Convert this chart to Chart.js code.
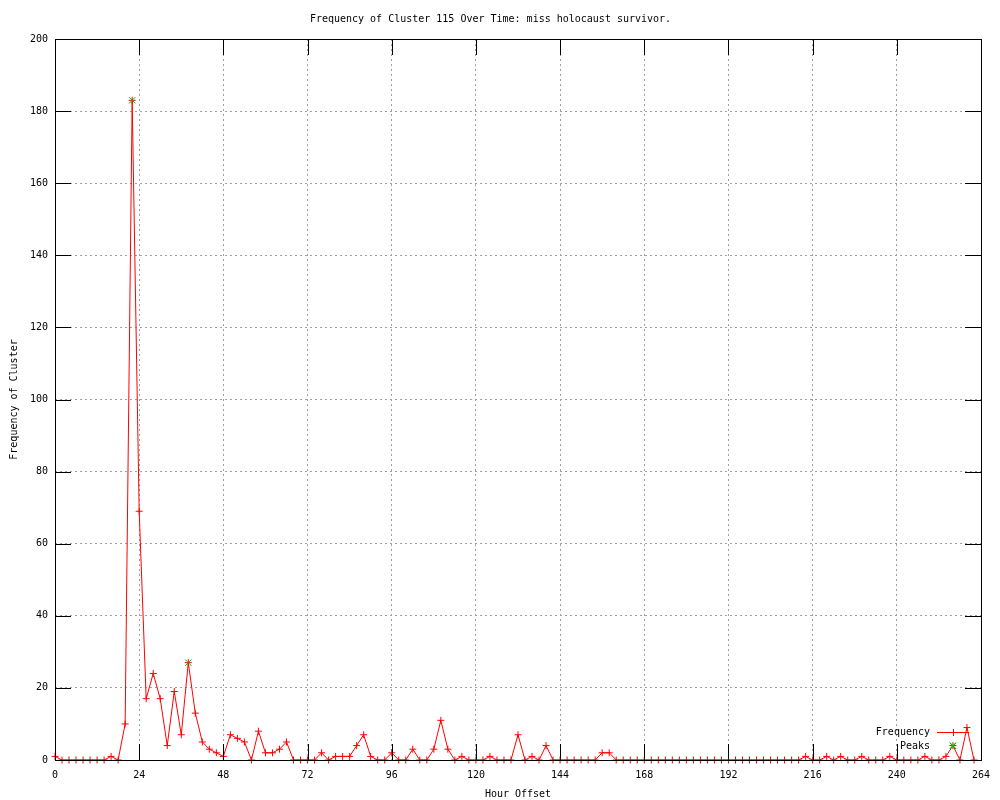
<!DOCTYPE html>
<html><head><meta charset="utf-8">
<script src="https://cdn.jsdelivr.net/npm/chart.js@4.4.0/dist/chart.umd.min.js"></script>
<style>html,body{margin:0;padding:0;background:#fff}</style>
</head><body>
<canvas id="c" width="1000" height="800"></canvas>
<script>
const titleText = 'Frequency of Cluster 115 Over Time: miss holocaust survivor.';
const xTitle = 'Hour Offset';
const yTitle = 'Frequency of Cluster';
const hours = [0,2,4,6,8,10,12,14,16,18,20,22,24,26,28,30,32,34,36,38,40,42,44,46,48,50,52,54,56,58,60,62,64,66,68,70,72,74,76,78,80,82,84,86,88,90,92,94,96,98,100,102,104,106,108,110,112,114,116,118,120,122,124,126,128,130,132,134,136,138,140,142,144,146,148,150,152,154,156,158,160,162,164,166,168,170,172,174,176,178,180,182,184,186,188,190,192,194,196,198,200,202,204,206,208,210,212,214,216,218,220,222,224,226,228,230,232,234,236,238,240,242,244,246,248,250,252,254,256,258,260,262];
const frequency = [1,0,0,0,0,0,0,0,1,0,10,183,69,17,24,17,4,19,7,27,13,5,3,2,1,7,6,5,0,8,2,2,3,5,0,0,0,0,2,0,1,1,1,4,7,1,0,0,2,0,0,3,0,0,3,11,3,0,1,0,0,0,1,0,0,0,7,0,1,0,4,0,0,0,0,0,0,0,2,2,0,0,0,0,0,0,0,0,0,0,0,0,0,0,0,0,0,0,0,0,0,0,0,0,0,0,0,1,0,0,1,0,1,0,0,1,0,0,0,1,0,0,0,0,1,0,0,1,4,0,9,0];
const peakHours = [22,38,256];
const peakValues = [183,27,4];
const xTicks = [0,24,48,72,96,120,144,168,192,216,240,264];
const yTicks = [0,20,40,60,80,100,120,140,160,180,200];
const legendLabels = ['Frequency','Peaks'];

const FONT = 'DejaVu Sans Mono';
const RED = '#ff0000';
const GREEN = '#00c000';

const freqData = hours.map((h,i)=>({x:h,y:frequency[i]}));
const peakData = peakHours.map((h,i)=>({x:h,y:peakValues[i]}));

const framePlugin = {
  id:'frame',
  afterDatasetsDraw(chart){
    const {ctx, chartArea:a, scales:{x,y}} = chart;
    ctx.save();
    ctx.strokeStyle='#000'; ctx.lineWidth=1; ctx.setLineDash([]);
    const T=16;
    ctx.beginPath();
    xTicks.forEach(v=>{
      const px=Math.round(x.getPixelForValue(v))+0.5;
      ctx.moveTo(px,a.bottom); ctx.lineTo(px,a.bottom-T);
      ctx.moveTo(px,a.top); ctx.lineTo(px,a.top+T);
    });
    yTicks.forEach(v=>{
      const py=Math.round(y.getPixelForValue(v))+0.5;
      ctx.moveTo(a.left,py); ctx.lineTo(a.left+T,py);
      ctx.moveTo(a.right,py); ctx.lineTo(a.right-T,py);
    });
    ctx.stroke();
    ctx.strokeRect(Math.round(a.left)+0.5, Math.round(a.top)+0.5, Math.round(a.right-a.left), Math.round(a.bottom-a.top));
    // legend
    ctx.font = '10px "'+FONT+'"';
    ctx.fillStyle='#000'; ctx.textAlign='right'; ctx.textBaseline='middle';
    const tx = a.right-51, ly1 = a.bottom-28, ly2 = a.bottom-14;
    ctx.fillText(legendLabels[0], tx, ly1);
    ctx.fillText(legendLabels[1], tx, ly2);
    ctx.strokeStyle=RED;
    ctx.beginPath(); ctx.moveTo(tx+7, ly1+0.5); ctx.lineTo(tx+39, ly1+0.5);
    const cx = tx+23;
    ctx.moveTo(cx-3.5, ly1+0.5); ctx.lineTo(cx+3.5, ly1+0.5);
    ctx.moveTo(cx+0.5, ly1-3); ctx.lineTo(cx+0.5, ly1+4);
    ctx.stroke();
    ctx.strokeStyle=GREEN;
    ctx.beginPath();
    ctx.moveTo(cx-3, ly2-3); ctx.lineTo(cx+3, ly2+3);
    ctx.moveTo(cx+3, ly2-3); ctx.lineTo(cx-3, ly2+3);
    ctx.stroke();
    ctx.restore();
  }
};

new Chart(document.getElementById('c'), {
  type:'line',
  data:{datasets:[
    {label:legendLabels[0], data:freqData, borderColor:RED, backgroundColor:RED, borderWidth:1,
     pointStyle:'cross', pointRadius:3.5, pointBorderColor:RED, pointBorderWidth:1, tension:0, clip:false, order:2},
    {label:legendLabels[1], data:peakData, showLine:false, borderColor:GREEN, backgroundColor:GREEN,
     pointStyle:'crossRot', pointRadius:4.5, pointBorderColor:GREEN, pointBorderWidth:1, clip:false, order:1}
  ]},
  options:{
    responsive:false, animation:false, devicePixelRatio:1,
    layout:{padding:{top:0,right:19,bottom:0,left:0}},
    plugins:{
      legend:{display:false}, tooltip:{enabled:false},
      title:{display:true, text:titleText, color:'#000', font:{family:FONT,size:10,weight:'normal'}, padding:{top:13,bottom:14}}
    },
    scales:{
      x:{type:'linear', min:0, max:264,
        afterBuildTicks(s){ s.ticks = xTicks.map(v=>({value:v})); },
        ticks:{color:'#000', font:{family:FONT,size:10}, padding:9, maxRotation:0, autoSkip:false},
        grid:{color:'#a0a0a0', drawTicks:false, lineWidth:1},
        border:{display:false, dash:[2,3]},
        title:{display:true, text:xTitle, color:'#000', font:{family:FONT,size:10}, padding:{top:4,bottom:0}},
        afterFit(s){ s.height = 40; }
      },
      y:{type:'linear', min:0, max:200,
        afterBuildTicks(s){ s.ticks = yTicks.map(v=>({value:v})); },
        ticks:{color:'#000', font:{family:FONT,size:10}, padding:7},
        grid:{color:'#a0a0a0', drawTicks:false, lineWidth:1},
        border:{display:false, dash:[2,3]},
        title:{display:true, text:yTitle, color:'#000', font:{family:FONT,size:10}, padding:{top:8,bottom:0}},
        afterFit(s){ s.width = 55; }
      }
    }
  },
  plugins:[framePlugin]
});
</script>
</body></html>
